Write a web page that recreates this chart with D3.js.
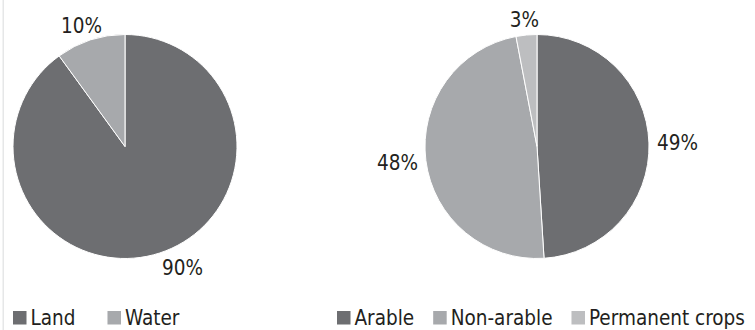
<!DOCTYPE html>
<html><head><meta charset="utf-8">
<script src="https://cdn.jsdelivr.net/npm/d3@7"></script>
<style>
html,body{margin:0;padding:0;background:#fff;}
svg text{font-family:"DejaVu Sans Condensed","DejaVu Sans",sans-serif;font-stretch:condensed;fill:#231f20;}
</style></head>
<body><svg id="chart" width="755" height="330"></svg>
<script>
// ---- data ----
const areaCategories = ["Land", "Water"];
const areaValues = [90, 10];
const areaLabels = ["90%", "10%"];

const landCategories = ["Arable", "Non-arable", "Permanent crops"];
const landValues = [49, 48, 3];
const landLabels = ["49%", "48%", "3%"];

const colors = ["#6d6e71", "#a7a9ac", "#bdbec0"];

// ---- layout ----
const W = 755, H = 330, R = 112, FS = 20.5;
const svg = d3.select("#chart");

svg.append("rect").attr("x", 2.5).attr("y", 0).attr("width", 1.5).attr("height", H).attr("fill", "#e6e7e8");

function drawPie(cats, vals, labels, cx, cy, legendX, legendGap) {
  const g = svg.append("g").attr("transform", `translate(${cx},${cy})`);
  const pie = d3.pie().sort(null).value(d => d)(vals);
  const arc = d3.arc().innerRadius(0).outerRadius(R);
  const color = d3.scaleOrdinal().domain(cats).range(colors);
  g.selectAll("path").data(pie).join("path")
    .attr("d", arc)
    .attr("fill", (d, i) => color(cats[i]))
    .attr("stroke", "#fff").attr("stroke-width", 1);

  // labels outside (best-fit style)
  const lr = R + 8;
  pie.forEach((d, i) => {
    const a = (d.startAngle + d.endAngle) / 2;
    const s = Math.sin(a), c = Math.cos(a);
    const px = lr * s, py = -lr * c;
    const t = g.append("text").attr("font-size", FS).attr("text-anchor", "middle").text(labels[i]);
    const w = t.node().getComputedTextLength();
    const h = FS * 0.73;
    const bx = c < 0 ? px + (w / 2) * Math.sign(s) : px + (w / 2) * s;
    const by = py - (h / 2) * c;
    t.attr("x", bx).attr("y", by + h / 2);
  });

  // legend
  const ly = 311, sq = 13.5;
  let x = legendX;
  cats.forEach((c, i) => {
    svg.append("rect").attr("x", x).attr("y", ly).attr("width", sq).attr("height", sq).attr("fill", color(c));
    const t = svg.append("text").attr("x", x + sq + 4).attr("y", ly + sq).attr("font-size", FS).text(c);
    x += sq + 4 + t.node().getComputedTextLength() + legendGap;
  });
}

drawPie(areaCategories, areaValues, areaLabels, 125, 146.5, 13, 32);
drawPie(landCategories, landValues, landLabels, 537, 146.5, 337, 19);
</script></body></html>
